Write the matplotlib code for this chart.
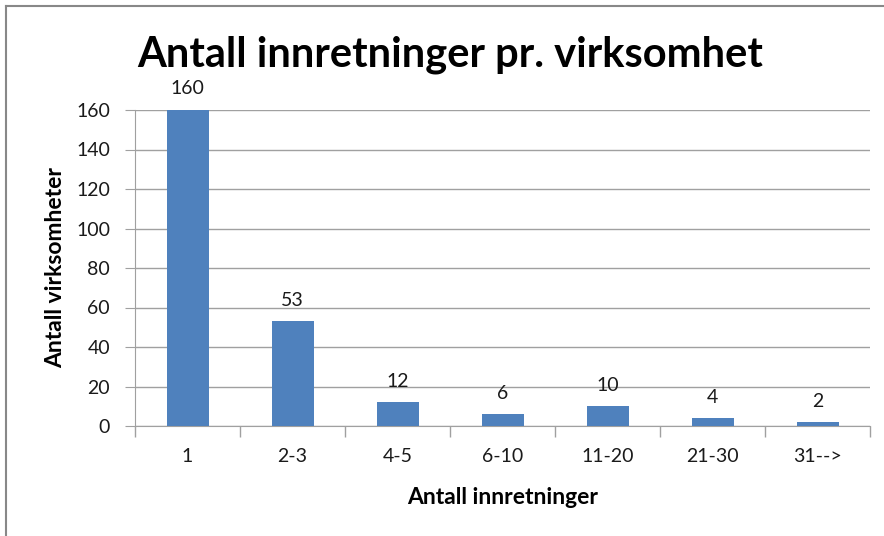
import matplotlib
matplotlib.use("Agg")
import matplotlib.pyplot as plt
from matplotlib.lines import Line2D

categories = ["1", "2-3", "4-5", "6-10", "11-20", "21-30", "31-->"]
values = [160, 53, 12, 6, 10, 4, 2]
yticks = [0, 20, 40, 60, 80, 100, 120, 140, 160]

plt.rcParams['font.family'] = ['Lato', 'DejaVu Sans']

fig = plt.figure(figsize=(8.84, 5.36), dpi=100)
ax = fig.add_axes([135/884, 1-426/536, (870-135)/884, (426-110)/536])

x = list(range(len(categories)))
ax.bar(x, values, width=0.4, color="#4f81bd", zorder=3)
for xi, v in zip(x, values):
    ax.annotate(str(v), (xi, v), xytext=(0, 9), textcoords="offset points",
                ha="center", va="bottom", fontsize=14, color="#1a1a1a")

ax.set_xlim(-0.5, len(categories) - 0.5)
ax.set_ylim(0, 160)
ax.set_yticks(yticks)
ax.set_yticklabels([str(t) for t in yticks], fontsize=14, color="#1a1a1a")
ax.set_xticks(x)
ax.set_xticklabels(categories, fontsize=14, color="#1a1a1a")
ax.tick_params(axis='x', length=0, pad=16)
ax.tick_params(axis='y', length=7, color="#a0a0a0", pad=11)
# category boundary ticks
ax.set_xticks([i - 0.5 for i in range(len(categories) + 1)], minor=True)
ax.tick_params(axis='x', which='minor', length=8, color="#a0a0a0", width=1)

ax.grid(axis='y', color="#a0a0a0", linewidth=1, zorder=0)
for s in ["top", "right"]:
    ax.spines[s].set_visible(False)
ax.spines["left"].set_color("#a0a0a0")
ax.spines["bottom"].set_color("#a0a0a0")

ax.set_xlabel("Antall innretninger", fontsize=16.5, fontweight="bold", labelpad=16)
ax.set_ylabel("Antall virksomheter", fontsize=16.5, fontweight="bold", labelpad=7)

fig.text(450/884, 1-55/536, "Antall innretninger pr. virksomhet", ha="center", va="center",
         fontsize=30, fontweight="bold", color="black")

# outer border (top and left visible)
fig.add_artist(Line2D([6/884, 6/884], [0, 1-6/536], transform=fig.transFigure, color="#888888", lw=1.5))
fig.add_artist(Line2D([6/884, 1], [1-6/536, 1-6/536], transform=fig.transFigure, color="#888888", lw=1.5))

fig.savefig("out.png", dpi=100)
